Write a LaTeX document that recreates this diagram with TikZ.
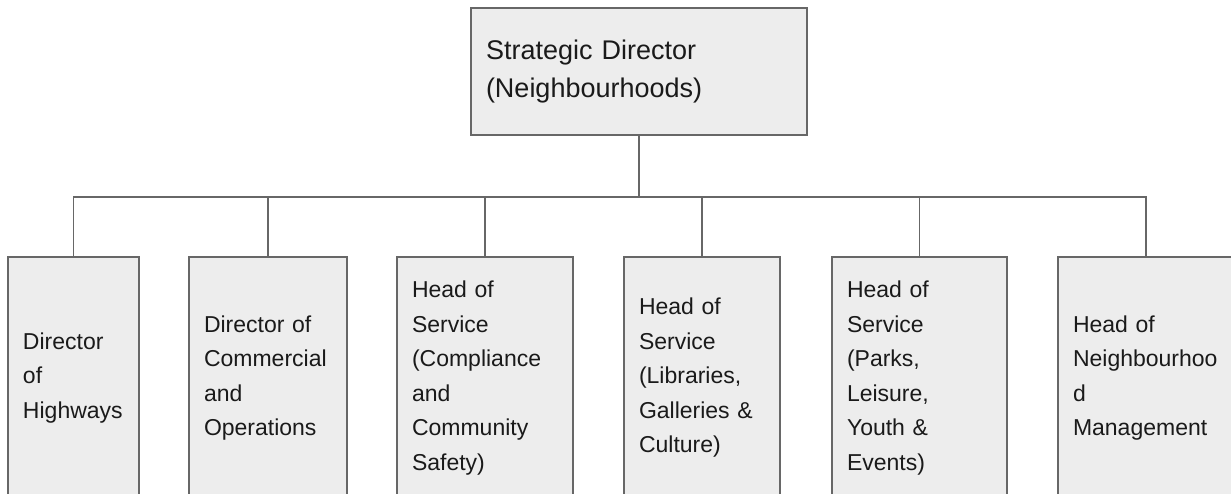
\documentclass[tikz,border=0pt]{standalone}
\usepackage{fontspec}
\setmainfont{Liberation Sans}
\definecolor{boxfill}{HTML}{EDEDED}
\definecolor{boxline}{HTML}{676767}
\definecolor{txt}{HTML}{1A1A1A}
\begin{document}
\begin{tikzpicture}[x=1pt,y=1pt,
  orgbox/.style={draw=boxline, line width=1.5pt, fill=boxfill, rectangle,
    inner xsep=15pt, inner ysep=0pt, align=left, text=txt},
  topbox/.style={orgbox, minimum width=336pt, minimum height=127pt, text width=306pt,
    font=\fontsize{27}{38}\selectfont},
  subbox/.style={orgbox, minimum height=242pt, font=\fontsize{23}{34.5}\selectfont},
  link/.style={draw=boxline, line width=1.5pt}]
\useasboundingbox (0,0) rectangle (1231,-493);
\clip (0,0) rectangle (1231,-493);
\fill[white] (0,0) rectangle (1231,-493);

\node[topbox] (top) at (639,-71.5) {Strategic Director\\(Neighbourhoods)};
\coordinate (bus) at (639,-197);

\node[subbox, minimum width=131pt, text width=101pt] (b1) at (73.5,-378) {Director\\of\\Highways};
\node[subbox, minimum width=156pt, text width=128pt] (b2) at (268,-378) {Director of\\Commercial\\and\\Operations};
\node[subbox, minimum width=176pt, text width=146pt] (b3) at (485,-378) {Head of\\Service\\(Compliance\\and\\Community\\Safety)};
\node[subbox, minimum width=156pt, text width=126pt] (b4) at (702,-378) {Head of\\Service\\(Libraries,\\Galleries \&\\Culture)};
\node[subbox, minimum width=175pt, text width=145pt] (b5) at (919.5,-378) {Head of\\Service\\(Parks,\\Leisure,\\Youth \&\\Events)};
\node[subbox, minimum width=176pt, text width=146pt] (b6) at (1146,-378) {Head of\\Neighbourhoo\\d\\Management};

\draw[link] (top.south) -- (bus);
\foreach \n in {b1,b2,b3,b4,b5,b6} {
  \draw[link] (bus) -| (\n.north);
}
\end{tikzpicture}
\end{document}
